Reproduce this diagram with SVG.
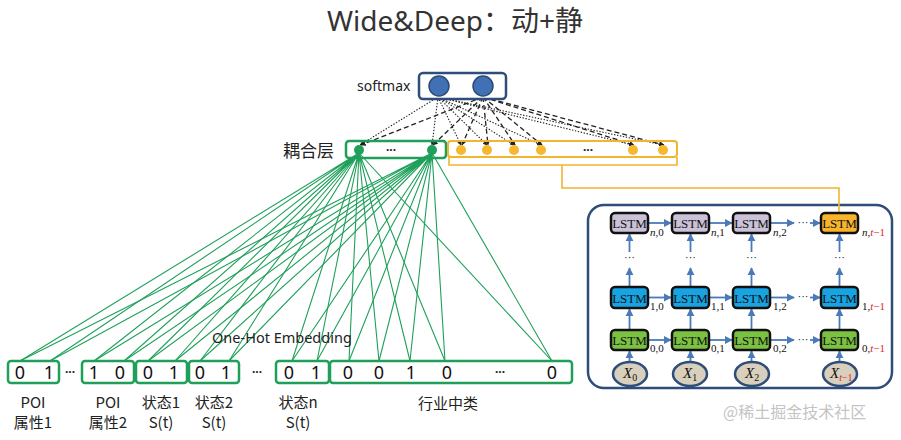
<svg xmlns="http://www.w3.org/2000/svg" width="901" height="440" viewBox="0 0 901 440">
<defs>
<style>
.t{font-family:"Noto Sans","Noto Sans CJK SC",sans-serif;fill:#222}
.cjk{font-family:"Noto Sans CJK SC","Noto Sans",sans-serif;fill:#222}
.dig{font-family:"Noto Sans","Liberation Sans",sans-serif;font-size:18px;fill:#111;text-anchor:middle}
.gbox{fill:none;stroke:#1fa05a;stroke-width:2.5}
.gl{stroke:#1fa05a;stroke-width:1.1;fill:none}
.dot{stroke:#222;stroke-width:1.1;stroke-dasharray:1.4 1.6;fill:none}
.dash{stroke:#222;stroke-width:1.3;stroke-dasharray:5 3;fill:none}
.ar{stroke:#4a7ab8;stroke-width:1.8;fill:none}
.cell{stroke:#111;stroke-width:2.5}
.lt{font-family:"Liberation Serif",serif;font-size:13px;fill:#111;text-anchor:middle}
.sub{font-family:"Liberation Serif",serif;font-size:11px;fill:#111}
.ell{fill:#d8d0bd;stroke:#2e4d78;stroke-width:2.5}
.ors{fill:none;stroke:#f2b530;stroke-width:1.6}
</style>
<marker id="ab" viewBox="0 0 10 10" refX="9" refY="5" markerWidth="4.5" markerHeight="4.5" orient="auto">
<path d="M0,0 L10,5 L0,10 z" fill="#4a7ab8"/>
</marker>
<marker id="ak" viewBox="0 0 10 10" refX="9" refY="5" markerWidth="4" markerHeight="4" orient="auto">
<path d="M0,0 L10,5 L0,10 z" fill="#222"/>
</marker>
</defs>
<rect width="901" height="440" fill="#fff"/>

<text x="455" y="31" class="t" font-size="28" text-anchor="middle" style="fill:#333">Wide&amp;Deep：动+静</text>

<g id="lstm-panel">
<rect x="588" y="205" width="304" height="183" rx="16" fill="#fff" stroke="#2e4d78" stroke-width="2.5"/>
</g>

<g id="connectors">
<g class="dot" marker-end="url(#ak)">
<line x1="438" y1="97" x2="360" y2="145"/>
<line x1="438" y1="97" x2="432" y2="145"/>
<line x1="438" y1="97" x2="461" y2="145"/>
<line x1="438" y1="97" x2="487" y2="145"/>
<line x1="438" y1="97" x2="514" y2="145"/>
<line x1="438" y1="97" x2="541" y2="145"/>
<line x1="438" y1="97" x2="633" y2="145"/>
<line x1="438" y1="97" x2="663" y2="145"/>
</g>
<g class="dash" marker-end="url(#ak)">
<line x1="483" y1="97" x2="361" y2="145"/>
<line x1="483" y1="97" x2="433" y2="145"/>
<line x1="483" y1="97" x2="462" y2="145"/>
<line x1="483" y1="97" x2="488" y2="145"/>
<line x1="483" y1="97" x2="515" y2="145"/>
<line x1="483" y1="97" x2="542" y2="145"/>
<line x1="483" y1="97" x2="634" y2="145"/>
<line x1="483" y1="97" x2="664" y2="145"/>
</g>
<g class="gl">
<path d="M359 153 L20 361 M359 153 L50 361 M359 153 L94 361 M359 153 L124 361 M359 153 L148 361 M359 153 L175 361 M359 153 L200 361 M359 153 L229 361 M359 153 L292 361 M359 153 L317 361 M359 153 L349 361 M359 153 L379 361 M359 153 L410 361 M359 153 L445 361 M359 153 L552 361"/>
<path d="M432 153 L20 361 M432 153 L50 361 M432 153 L94 361 M432 153 L124 361 M432 153 L148 361 M432 153 L175 361 M432 153 L200 361 M432 153 L229 361 M432 153 L292 361 M432 153 L317 361 M432 153 L349 361 M432 153 L379 361 M432 153 L410 361 M432 153 L445 361 M432 153 L552 361"/>
</g>
<path class="ors" d="M449 157 V165 H677 V157 M562 165 V188 H839 V213"/>
<g class="ar" marker-end="url(#ab)">
<line x1="648" y1="223" x2="671" y2="223"/>
<line x1="709" y1="223" x2="732" y2="223"/>
<line x1="770" y1="223" x2="794" y2="223"/>
<line x1="810" y1="223" x2="820" y2="223"/>
<line x1="648" y1="297.5" x2="671" y2="297.5"/>
<line x1="709" y1="297.5" x2="732" y2="297.5"/>
<line x1="770" y1="297.5" x2="794" y2="297.5"/>
<line x1="810" y1="297.5" x2="820" y2="297.5"/>
<line x1="648" y1="340" x2="671" y2="340"/>
<line x1="709" y1="340" x2="732" y2="340"/>
<line x1="770" y1="340" x2="794" y2="340"/>
<line x1="810" y1="340" x2="820" y2="340"/>
<line x1="629.5" y1="361" x2="629.5" y2="351"/>
<line x1="690.5" y1="361" x2="690.5" y2="351"/>
<line x1="751.5" y1="361" x2="751.5" y2="351"/>
<line x1="839.5" y1="361" x2="839.5" y2="351"/>
<line x1="629.5" y1="330" x2="629.5" y2="309"/>
<line x1="690.5" y1="330" x2="690.5" y2="309"/>
<line x1="751.5" y1="330" x2="751.5" y2="309"/>
<line x1="839.5" y1="330" x2="839.5" y2="309"/>
<line x1="629.5" y1="287" x2="629.5" y2="268"/>
<line x1="690.5" y1="287" x2="690.5" y2="268"/>
<line x1="751.5" y1="287" x2="751.5" y2="268"/>
<line x1="839.5" y1="287" x2="839.5" y2="268"/>
<line x1="629.5" y1="252" x2="629.5" y2="234"/>
<line x1="690.5" y1="252" x2="690.5" y2="234"/>
<line x1="751.5" y1="252" x2="751.5" y2="234"/>
<line x1="839.5" y1="252" x2="839.5" y2="234"/>
</g>
</g>

<g id="softmax">
<text x="357" y="91" class="t" font-size="14">softmax</text>
<rect x="419" y="73" width="87" height="26" rx="4" fill="#fff" stroke="#2e4d78" stroke-width="2.5"/>
<circle cx="439" cy="86" r="10" fill="#4170b5" stroke="#2b4a75" stroke-width="1.5"/>
<circle cx="483" cy="86" r="10" fill="#4170b5" stroke="#2b4a75" stroke-width="1.5"/>
</g>

<g id="coupling">
<text x="283" y="157" class="cjk" font-size="17">耦合层</text>
<rect x="346" y="141" width="100" height="17" rx="3" fill="none" stroke="#1fa05a" stroke-width="2.5"/>
<circle cx="359" cy="150" r="5" fill="#1fa05a"/>
<circle cx="432" cy="150" r="5" fill="#1fa05a"/>
<text x="391" y="154" class="t" font-size="12" text-anchor="middle" font-weight="bold">···</text>
</g>

<g id="deep-layer">
<rect x="448" y="141" width="229" height="16" rx="3" fill="none" stroke="#f2b530" stroke-width="2"/>
<circle cx="461" cy="150" r="5" fill="#f7b731"/>
<circle cx="487" cy="150" r="5" fill="#f7b731"/>
<circle cx="514" cy="150" r="5" fill="#f7b731"/>
<circle cx="541" cy="150" r="5" fill="#f7b731"/>
<circle cx="633" cy="150" r="5" fill="#f7b731"/>
<circle cx="663" cy="150" r="5" fill="#f7b731"/>
<text x="588" y="154" class="t" font-size="12" text-anchor="middle" font-weight="bold">···</text>
</g>

<text x="212" y="343" class="t" font-size="14.5">One-Hot Embedding</text>

<g id="inputs">
<rect class="gbox" x="8" y="361" width="51" height="22" rx="3"/>
<rect class="gbox" x="82" y="361" width="52" height="22" rx="3"/>
<rect class="gbox" x="136" y="361" width="51" height="22" rx="3"/>
<rect class="gbox" x="189" y="361" width="50" height="22" rx="3"/>
<rect class="gbox" x="276" y="361" width="53" height="22" rx="3"/>
<rect class="gbox" x="330" y="361" width="242" height="22" rx="3"/>
<text class="dig" x="20" y="379">0</text><text class="dig" x="49" y="379">1</text>
<text class="dig" x="94" y="379">1</text><text class="dig" x="120" y="379">0</text>
<text class="dig" x="148" y="379">0</text><text class="dig" x="174" y="379">1</text>
<text class="dig" x="200" y="379">0</text><text class="dig" x="226" y="379">1</text>
<text class="dig" x="289" y="379">0</text><text class="dig" x="316" y="379">1</text>
<text class="dig" x="348" y="379">0</text><text class="dig" x="379" y="379">0</text>
<text class="dig" x="411" y="379">1</text><text class="dig" x="447" y="379">0</text>
<text class="dig" x="552" y="379">0</text>
<text x="70" y="376" class="t" font-size="12" text-anchor="middle" font-weight="bold">···</text>
<text x="257" y="376" class="t" font-size="12" text-anchor="middle" font-weight="bold">···</text>
<text x="500" y="376" class="t" font-size="12" text-anchor="middle" font-weight="bold">···</text>
</g>

<g id="labels" class="cjk" font-size="15" text-anchor="middle">
<text x="33" y="408">POI</text><text x="33" y="428">属性1</text>
<text x="108" y="408">POI</text><text x="108" y="428">属性2</text>
<text x="161" y="408">状态1</text><text x="161" y="428">S(t)</text>
<text x="214" y="408">状态2</text><text x="214" y="428">S(t)</text>
<text x="298" y="408">状态n</text><text x="298" y="428">S(t)</text>
<text x="448" y="409">行业中类</text>
</g>

<g id="lstm-cells">
<rect class="cell" x="611" y="213" width="37" height="20" rx="4" fill="#cbc2d8"/>
<rect class="cell" x="672" y="213" width="37" height="20" rx="4" fill="#cbc2d8"/>
<rect class="cell" x="733" y="213" width="37" height="20" rx="4" fill="#cbc2d8"/>
<rect class="cell" x="821" y="213" width="37" height="20" rx="4" fill="#f7b42c"/>
<rect class="cell" x="611" y="287" width="37" height="21" rx="4" fill="#18a3e2"/>
<rect class="cell" x="672" y="287" width="37" height="21" rx="4" fill="#18a3e2"/>
<rect class="cell" x="733" y="287" width="37" height="21" rx="4" fill="#18a3e2"/>
<rect class="cell" x="821" y="287" width="37" height="21" rx="4" fill="#18a3e2"/>
<rect class="cell" x="611" y="330" width="37" height="20" rx="4" fill="#7cc242"/>
<rect class="cell" x="672" y="330" width="37" height="20" rx="4" fill="#7cc242"/>
<rect class="cell" x="733" y="330" width="37" height="20" rx="4" fill="#7cc242"/>
<rect class="cell" x="821" y="330" width="37" height="20" rx="4" fill="#7cc242"/>
<text class="lt" x="629.5" y="228">LSTM</text><text class="lt" x="690.5" y="228">LSTM</text><text class="lt" x="751.5" y="228">LSTM</text><text class="lt" x="839.5" y="228">LSTM</text>
<text class="lt" x="629.5" y="302.5">LSTM</text><text class="lt" x="690.5" y="302.5">LSTM</text><text class="lt" x="751.5" y="302.5">LSTM</text><text class="lt" x="839.5" y="302.5">LSTM</text>
<text class="lt" x="629.5" y="345">LSTM</text><text class="lt" x="690.5" y="345">LSTM</text><text class="lt" x="751.5" y="345">LSTM</text><text class="lt" x="839.5" y="345">LSTM</text>
<text class="sub" x="650" y="236"><tspan font-style="italic">n</tspan>,0</text>
<text class="sub" x="711" y="236"><tspan font-style="italic">n</tspan>,1</text>
<text class="sub" x="773" y="236"><tspan font-style="italic">n</tspan>,2</text>
<text class="sub" x="862" y="236"><tspan font-style="italic">n</tspan>,<tspan fill="#d9262b"><tspan font-style="italic">t</tspan>−1</tspan></text>
<text class="sub" x="650" y="310">1,0</text>
<text class="sub" x="711" y="310">1,1</text>
<text class="sub" x="773" y="310">1,2</text>
<text class="sub" x="862" y="310">1,<tspan fill="#d9262b"><tspan font-style="italic">t</tspan>−1</tspan></text>
<text class="sub" x="650" y="352">0,0</text>
<text class="sub" x="711" y="352">0,1</text>
<text class="sub" x="773" y="352">0,2</text>
<text class="sub" x="862" y="352">0,<tspan fill="#d9262b"><tspan font-style="italic">t</tspan>−1</tspan></text>
<g class="sub" font-size="11" text-anchor="middle">
<text x="629.5" y="261">···</text><text x="690.5" y="261">···</text><text x="751.5" y="261">···</text><text x="839.5" y="261">···</text>
<text x="803" y="226">···</text><text x="803" y="300">···</text><text x="803" y="343">···</text>
</g>
</g>

<g id="lstm-inputs">
<ellipse class="ell" cx="630" cy="374" rx="17" ry="12"/>
<ellipse class="ell" cx="690" cy="374" rx="17" ry="12"/>
<ellipse class="ell" cx="752" cy="374" rx="17" ry="12"/>
<ellipse class="ell" cx="840" cy="374" rx="17" ry="12"/>
<g font-family="Liberation Serif,serif" font-size="15" fill="#111">
<text x="623" y="378"><tspan font-style="italic">X</tspan><tspan font-size="10" dy="3">0</tspan></text>
<text x="683" y="378"><tspan font-style="italic">X</tspan><tspan font-size="10" dy="3">1</tspan></text>
<text x="745" y="378"><tspan font-style="italic">X</tspan><tspan font-size="10" dy="3">2</tspan></text>
<text x="830" y="378"><tspan font-style="italic">X</tspan><tspan font-size="10" dy="3" fill="#d9262b"><tspan font-style="italic">t</tspan>−1</tspan></text>
</g>
</g>

<text x="723" y="418" font-family="Noto Sans CJK SC,sans-serif" font-size="16" fill="#c4c4c4">@稀土掘金技术社区</text>
</svg>
